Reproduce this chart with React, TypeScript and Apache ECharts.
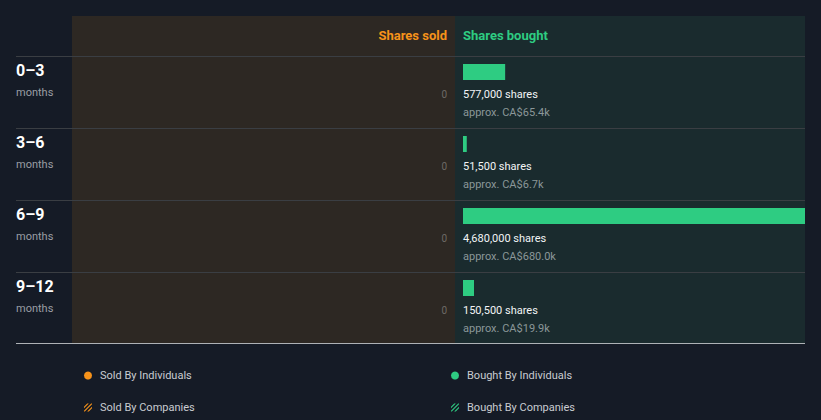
import React, { useEffect, useRef } from "react";
import * as echarts from "echarts";

const categories = ["0–3", "3–6", "6–9", "9–12"];
const periodUnit = "months";
const sharesSold = [0, 0, 0, 0];
const sharesBought = [577000, 51500, 4680000, 150500];
const boughtValueK = [65.4, 6.7, 680.0, 19.9];
const soldHeader = "Shares sold";
const boughtHeader = "Shares bought";
const legendSold = ["Sold By Individuals", "Sold By Companies"];
const legendBought = ["Bought By Individuals", "Bought By Companies"];

const ORANGE = "#f7931a";
const GREEN = "#2ecc82";
const FONT = "Roboto, 'Noto Sans', sans-serif";
const STRIPES = "path://M0,4L4,0H6L0,6Z M0,9L9,0H10V1L1,10H0Z M4,10L10,4V6L6,10Z";

export default function App() {
  const ref = useRef<HTMLDivElement>(null);
  useEffect(() => {
    if (!ref.current) return;
    const chart = echarts.init(ref.current, undefined, { renderer: "svg" });
    const maxBought = Math.max(...sharesBought);
    const fmt = (n: number) => n.toLocaleString("en-US");

    const legendText = { color: "#c9ccd1", fontSize: 11, fontFamily: FONT, padding: [0, 0, 0, 3] };
    const option: any = {
      animation: false,
      backgroundColor: "#151b26",
      grid: [
        { left: 72, top: 56, width: 375, height: 288 },
        { left: 463, top: 56, width: 342, height: 288 },
      ],
      xAxis: [
        { type: "value", gridIndex: 0, min: 0, max: maxBought, inverse: true, show: false },
        { type: "value", gridIndex: 1, min: 0, max: maxBought, show: false },
      ],
      yAxis: [
        { type: "category", gridIndex: 0, data: categories, inverse: true, show: false },
        { type: "category", gridIndex: 1, data: categories, inverse: true, show: false },
      ],
      legend: [
        {
          left: 79, top: 365, orient: "vertical", itemGap: 21, itemWidth: 8, itemHeight: 8,
          data: [
            { name: legendSold[0], icon: "circle" },
            { name: legendSold[1], icon: STRIPES },
          ],
          textStyle: legendText,
        },
        {
          left: 446, top: 365, orient: "vertical", itemGap: 21, itemWidth: 8, itemHeight: 8,
          data: [
            { name: legendBought[0], icon: "circle" },
            { name: legendBought[1], icon: STRIPES },
          ],
          textStyle: legendText,
        },
      ],
      graphic: [
        { type: "rect", shape: { x: 72, y: 16, width: 383, height: 327 }, style: { fill: "#2d2823" }, silent: true },
        { type: "rect", shape: { x: 455, y: 16, width: 350, height: 327 }, style: { fill: "#1a2b2e" }, silent: true },
        ...[56.5, 128.5, 200.5, 272.5].map((y) => ({
          type: "line", shape: { x1: 16, y1: y, x2: 805, y2: y }, style: { stroke: "#3a3e43", lineWidth: 1 }, silent: true,
        })),
        { type: "line", shape: { x1: 16, y1: 343.5, x2: 805, y2: 343.5 }, style: { stroke: "#aeb2b6", lineWidth: 1 }, silent: true },
        {
          type: "text", x: 447, y: 35,
          style: { text: soldHeader, fill: ORANGE, font: `bold 13px ${FONT}`, align: "right", verticalAlign: "middle" },
        },
        {
          type: "text", x: 463, y: 35,
          style: { text: boughtHeader, fill: GREEN, font: `bold 13px ${FONT}`, align: "left", verticalAlign: "middle" },
        },
      ],
      series: [
        {
          name: legendSold[0],
          type: "custom",
          xAxisIndex: 0,
          yAxisIndex: 0,
          color: ORANGE,
          encode: { x: 0, y: 1 },
          data: sharesSold.map((v, i) => [v, i]),
          renderItem: (params: any, api: any) => {
            const idx = api.value(1);
            const p = api.coord([api.value(0), idx]);
            const band = api.size([0, 1])[1];
            const top = p[1] - band / 2;
            return {
              type: "group",
              children: [
                {
                  type: "text", x: p[0], y: top + 38,
                  style: { text: fmt(api.value(0)), fill: "#6e6a66", font: `10px ${FONT}`, align: "right", verticalAlign: "middle" },
                },
                {
                  type: "text", x: 16, y: top + 14,
                  style: { text: categories[idx], fill: "#ffffff", font: `bold 16px ${FONT}`, align: "left", verticalAlign: "middle" },
                },
                {
                  type: "text", x: 16, y: top + 36,
                  style: { text: periodUnit, fill: "#9a9ea4", font: `11px ${FONT}`, align: "left", verticalAlign: "middle" },
                },
              ],
            };
          },
        },
        {
          name: legendSold[1], type: "custom", xAxisIndex: 0, yAxisIndex: 0, color: ORANGE, data: [],
          renderItem: () => ({ type: "group", children: [] }),
        },
        {
          name: legendBought[0],
          type: "custom",
          xAxisIndex: 1,
          yAxisIndex: 1,
          color: GREEN,
          encode: { x: 0, y: 1 },
          data: sharesBought.map((v, i) => [v, i]),
          renderItem: (params: any, api: any) => {
            const idx = api.value(1);
            const s = api.coord([0, idx]);
            const e = api.coord([api.value(0), idx]);
            const band = api.size([0, 1])[1];
            const top = s[1] - band / 2;
            return {
              type: "group",
              children: [
                {
                  type: "rect",
                  shape: { x: s[0], y: top + 8, width: e[0] - s[0], height: 16 },
                  style: { fill: GREEN },
                },
                {
                  type: "text", x: s[0], y: top + 38,
                  style: { text: `${fmt(api.value(0))} shares`, fill: "#f2f4f5", font: `11px ${FONT}`, align: "left", verticalAlign: "middle" },
                },
                {
                  type: "text", x: s[0], y: top + 56,
                  style: { text: `approx. CA$${boughtValueK[idx].toFixed(1)}k`, fill: "#8b9799", font: `11px ${FONT}`, align: "left", verticalAlign: "middle" },
                },
              ],
            };
          },
        },
        {
          name: legendBought[1], type: "custom", xAxisIndex: 1, yAxisIndex: 1, color: GREEN, data: [],
          renderItem: () => ({ type: "group", children: [] }),
        },
      ],
    };
    chart.setOption(option);
    return () => chart.dispose();
  }, []);
  return <div ref={ref} style={{ position: "absolute", left: 0, top: 0, width: 821, height: 420 }} />;
}
